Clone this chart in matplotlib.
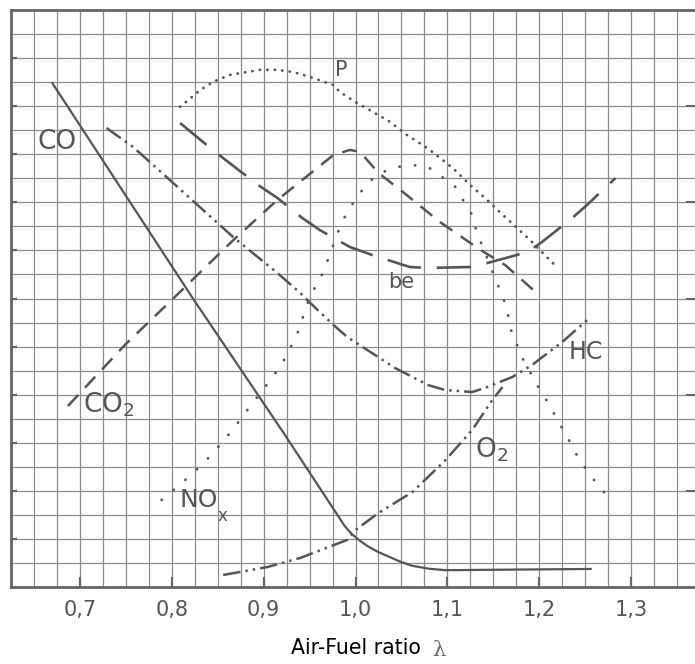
import numpy as np
import matplotlib
matplotlib.use("Agg")
import matplotlib.pyplot as plt

# ---- data (x = air-fuel ratio lambda, y = relative scale in grid units) ----
co_x = [0.670, 0.822, 0.921, 0.976, 0.988, 0.996, 1.004, 1.013, 1.025, 1.049, 1.062, 1.080, 1.098, 1.256]
co_y = [20.96, 12.06, 6.45, 3.25, 2.55, 2.20, 1.95, 1.70, 1.45, 1.05, 0.88, 0.76, 0.70, 0.75]

co2_x = [0.687, 0.749, 0.800, 0.867, 0.915, 0.976, 0.994, 1.005, 1.025, 1.049, 1.092, 1.136, 1.163, 1.196]
co2_y = [7.53, 10.07, 11.94, 14.43, 16.10, 17.97, 18.18, 18.10, 17.22, 16.51, 15.18, 14.02, 13.39, 12.27]

be_x = [0.809, 0.842, 0.860, 0.894, 0.915, 0.942, 0.961, 0.994, 1.018, 1.059, 1.079, 1.125,
        1.144, 1.187, 1.203, 1.236, 1.252, 1.283]
be_y = [19.30, 18.26, 17.72, 16.72, 16.18, 15.35, 14.85, 14.14, 13.81, 13.31, 13.27, 13.31,
        13.48, 13.93, 14.35, 15.35, 15.89, 17.01]

p_x = [0.809, 0.831, 0.845, 0.863, 0.896, 0.915, 0.932, 0.951, 0.976, 0.983, 1.000, 1.019,
       1.038, 1.056, 1.078, 1.095, 1.108, 1.127, 1.141, 1.158, 1.176, 1.190, 1.204, 1.220]
p_y = [19.97, 20.67, 21.01, 21.30, 21.51, 21.51, 21.42, 21.21, 20.88, 20.59, 20.17, 19.76,
       19.34, 18.80, 18.26, 17.76, 17.35, 16.64, 16.18, 15.56, 14.93, 14.43, 13.89, 13.27]

no_x = [0.789, 0.817, 0.830, 0.843, 0.855, 0.866, 0.888, 0.899, 0.910, 0.921, 0.929, 0.937,
        0.948, 0.956, 0.965, 0.983, 0.992, 1.002, 1.013, 1.027, 1.045, 1.062, 1.079, 1.108,
        1.117, 1.127, 1.132, 1.152, 1.158, 1.165, 1.168, 1.181, 1.190, 1.199, 1.209, 1.217,
        1.226, 1.234, 1.242, 1.253, 1.264, 1.275]
no_y = [3.62, 4.53, 4.99, 5.49, 6.03, 6.53, 7.65, 8.19, 8.74, 9.36, 9.94, 10.57,
        11.81, 12.48, 13.10, 14.98, 15.68, 16.22, 16.81, 17.22, 17.47, 17.55, 17.47, 16.68,
        16.10, 15.47, 14.77, 12.85, 12.27, 11.61, 10.82, 9.57, 8.94, 8.32, 7.70, 7.15,
        6.53, 5.99, 5.41, 4.78, 4.24, 3.74]

hc_x = [0.729, 0.758, 0.867, 0.915, 0.940, 0.947, 0.976, 0.991, 1.043, 1.079, 1.098, 1.127,
        1.141, 1.171, 1.192, 1.225, 1.256]
hc_y = [19.09, 18.30, 14.55, 13.06, 12.23, 11.95, 10.90, 10.40, 9.11, 8.40, 8.19, 8.11,
        8.28, 8.74, 9.23, 10.19, 11.23]

o2_x = [0.856, 0.904, 0.940, 0.991, 1.000, 1.025, 1.062, 1.098, 1.127, 1.149, 1.160]
o2_y = [0.50, 0.83, 1.21, 1.96, 2.37, 3.08, 3.95, 5.28, 6.53, 7.78, 8.32]

xtick_vals = [0.7, 0.8, 0.9, 1.0, 1.1, 1.2, 1.3]
xtick_labels = ["0,7", "0,8", "0,9", "1,0", "1,1", "1,2", "1,3"]

# ---- figure ----
W, H = 695, 664
fig = plt.figure(figsize=(W / 100, H / 100), dpi=100)
fig.patch.set_facecolor("white")
ax = fig.add_axes([11 / W, (H - 587) / H, (700 - 11) / W, (587 - 10) / H])
ax.set_xlim(0.625, 1.375)
ax.set_ylim(0, 24)

grid_c = "#8c8c8c"
line_c = "#555555"

# grid
for gx in np.arange(0.625, 1.376, 0.025):
    ax.axvline(gx, color=grid_c, lw=0.9, zorder=1)
for gy in range(0, 25):
    ax.axhline(gy, color=grid_c, lw=0.9, zorder=1)

for side in ["left", "bottom", "top"]:
    ax.spines[side].set_color("#666666")
    ax.spines[side].set_linewidth(2.0)
ax.spines["right"].set_visible(False)

ax.set_xticks(xtick_vals)
ax.set_xticklabels(xtick_labels, fontsize=15, color="#555555")
ax.tick_params(axis="x", direction="in", length=7, width=1.5, color="#666666", pad=9)
ax.set_yticks(range(2, 24, 2))
ax.set_yticklabels([])
ax.tick_params(axis="y", direction="in", length=4, width=1.5, color="#666666")
ax.yaxis.set_ticks_position("left")
ax2 = ax.twinx()
ax2.set_ylim(0, 24)
ax2.set_yticks([4, 8, 12, 16, 20])
ax2.set_yticklabels([])
ax2.tick_params(axis="y", direction="in", length=10, width=1.5, color="#666666")
for s in ax2.spines.values():
    s.set_visible(False)

# curves
ax.plot(co_x, co_y, color=line_c, lw=1.6, zorder=3)
ax.plot(co2_x, co2_y, color=line_c, lw=1.8, dashes=(6, 4), zorder=3)
ax.plot(be_x, be_y, color=line_c, lw=1.9, dashes=(13, 6), zorder=3)
ax.plot(p_x, p_y, color=line_c, lw=2.0, dashes=(0.1, 2.6), dash_capstyle="round", zorder=3)
ax.plot(no_x, no_y, color=line_c, lw=2.0, dashes=(0.1, 5.5), dash_capstyle="round", zorder=3)
ax.plot(hc_x, hc_y, color=line_c, lw=1.8, dashes=(7, 2, 1, 2, 1, 2), zorder=3)
ax.plot(o2_x, o2_y, color=line_c, lw=1.8, dashes=(7, 2, 1, 2, 1, 2), zorder=3)

# curve labels
lab = dict(color="#555555", zorder=4)
ax.text(0.675, 18.51, "CO", fontsize=19, ha="center", va="center", **lab)
ax.text(0.703, 7.57, "CO$_2$", fontsize=19, ha="left", va="center", **lab)
ax.text(0.984, 21.5, "P", fontsize=15, ha="center", va="center", **lab)
ax.text(1.050, 12.69, "be", fontsize=15, ha="center", va="center", **lab)
ax.text(1.251, 9.78, "HC", fontsize=17, ha="center", va="center", **lab)
ax.text(1.130, 5.70, "O$_2$", fontsize=19, ha="left", va="center", **lab)
ax.text(0.829, 3.62, "NO", fontsize=18, ha="center", va="center", **lab)
ax.text(0.855, 2.95, "x", fontsize=12, ha="center", va="center", **lab)

# axis label
fig.text(291 / W, 1 - 648 / H, "Air-Fuel ratio", fontsize=14.8, color="black",
         ha="left", va="center")
fig.text(432 / W, 1 - 650 / H, "λ", fontsize=15, color="#666666",
         ha="left", va="center", family="DejaVu Serif")

fig.savefig("out.png", dpi=100, facecolor="white")
